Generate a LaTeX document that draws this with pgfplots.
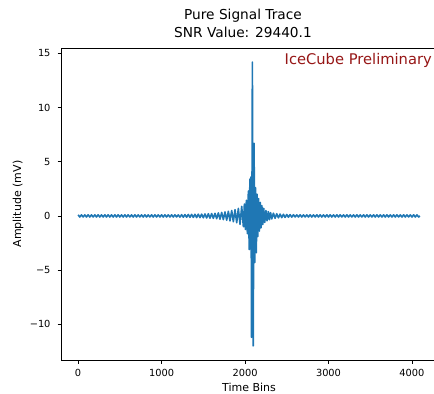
\documentclass[border=0pt]{standalone}
\usepackage{fontspec}
\setmainfont{DejaVu Sans}
\usepackage{pgfplots}
\pgfplotsset{compat=1.18}
\definecolor{mplblue}{HTML}{1F77B4}
\definecolor{icred}{RGB}{150,22,22}
\begin{document}
\begin{tikzpicture}
\useasboundingbox (-61bp,-34bp) rectangle (373bp,360bp);
\begin{axis}[
  at={(0,0)}, anchor=south west,
  scale only axis, width=376bp, height=312bp,
  xmin=-205, xmax=4300, ymin=-13.3, ymax=15.5,
  xtick={0,1000,2000,3000,4000},
  ytick={-10,-5,0,5,10,15},
  yticklabels={−10,−5,0,5,10,15},
  tick align=outside, xtick pos=bottom, ytick pos=left,
  major tick length=3.5bp,
  tick style={black, line width=0.7bp},
  axis line style={line width=0.7bp},
  ticklabel style={font=\fontsize{9.8bp}{11bp}\selectfont},
  xticklabel style={yshift=-2bp},
  yticklabel style={xshift=-3.5bp},
  /pgf/number format/assume math mode=true,
  /pgf/number format/1000 sep={},
]
\addplot[mplblue, line width=1.6bp, line join=round, mark=none] table {
x y
0 0.10
20 -0.10
40 0.10
60 -0.10
80 0.10
100 -0.10
120 0.10
140 -0.10
160 0.10
180 -0.10
200 0.10
220 -0.10
240 0.10
260 -0.10
280 0.10
300 -0.10
320 0.10
340 -0.10
360 0.10
380 -0.10
400 0.10
420 -0.10
440 0.10
460 -0.10
480 0.10
500 -0.10
520 0.10
540 -0.10
560 0.10
580 -0.10
600 0.10
620 -0.10
640 0.10
660 -0.10
680 0.10
700 -0.10
720 0.10
740 -0.10
760 0.10
780 -0.10
800 0.10
820 -0.10
840 0.10
860 -0.10
880 0.10
900 -0.10
920 0.10
940 -0.10
960 0.10
980 -0.10
1000 0.10
1020 -0.10
1040 0.10
1060 -0.10
1080 0.10
1100 -0.10
1120 0.10
1140 -0.10
1160 0.10
1180 -0.10
1200 0.10
1220 -0.11
1240 0.11
1260 -0.12
1280 0.12
1300 -0.12
1320 0.13
1340 -0.13
1360 0.14
1380 -0.14
1400 0.15
1420 -0.15
1440 0.16
1460 -0.16
1480 0.17
1500 -0.17
1520 0.18
1540 -0.19
1560 0.20
1580 -0.21
1600 0.22
1620 -0.23
1640 0.24
1660 -0.26
1680 0.28
1700 -0.30
1720 0.32
1740 -0.34
1760 0.37
1780 -0.40
1800 0.43
1820 -0.46
1840 0.50
1860 -0.54
1880 0.58
1900 -0.63
1920 0.70
1940 -0.78
1960 0.88
1980 -1.00
1992 1.10
2004 -1.25
2016 1.45
2028 -1.65
2040 2.30
2050 -3.10
2058 3.40
2066 -2.80
2072 3.60
2078 -11.2
2088 14.2
2098 -12.0
2108 6.7
2117 -4.3
2126 2.6
2135 -3.4
2144 2.0
2153 -1.9
2162 1.6
2172 -1.4
2182 1.25
2192 -1.10
2202 0.95
2212 -0.80
2224 0.70
2236 -0.60
2250 0.50
2264 -0.45
2278 0.40
2292 -0.35
2306 0.31
2320 -0.28
2340 0.25
2360 -0.22
2380 0.20
2400 -0.18
2420 0.17
2440 -0.16
2460 0.15
2480 -0.14
2500 0.13
2520 -0.12
2540 0.12
2560 -0.11
2580 0.11
2600 -0.10
2620 0.10
2640 -0.10
2660 0.10
2680 -0.10
2700 0.10
2720 -0.10
2740 0.10
2760 -0.10
2780 0.10
2800 -0.10
2820 0.10
2840 -0.10
2860 0.10
2880 -0.10
2900 0.10
2920 -0.10
2940 0.10
2960 -0.10
2980 0.10
3000 -0.10
3020 0.10
3040 -0.10
3060 0.10
3080 -0.10
3100 0.10
3120 -0.10
3140 0.10
3160 -0.10
3180 0.10
3200 -0.10
3220 0.10
3240 -0.10
3260 0.10
3280 -0.10
3300 0.10
3320 -0.10
3340 0.10
3360 -0.10
3380 0.10
3400 -0.10
3420 0.10
3440 -0.10
3460 0.10
3480 -0.10
3500 0.10
3520 -0.10
3540 0.10
3560 -0.10
3580 0.10
3600 -0.10
3620 0.10
3640 -0.10
3660 0.10
3680 -0.10
3700 0.10
3720 -0.10
3740 0.10
3760 -0.10
3780 0.10
3800 -0.10
3820 0.10
3840 -0.10
3860 0.10
3880 -0.10
3900 0.10
3920 -0.10
3940 0.10
3960 -0.10
3980 0.10
4000 -0.10
4020 0.10
4040 -0.10
4060 0.10
4080 -0.10
4095 0.00
};
\end{axis}
\node[anchor=base, inner sep=0, font=\fontsize{13.7bp}{16bp}\selectfont] at (182bp,340.5bp) {Pure Signal Trace};
\node[anchor=base, inner sep=0, font=\fontsize{13.7bp}{16bp}\selectfont] at (182bp,322.5bp) {SNR Value: 29440.1};
\node[anchor=base east, inner sep=0, text=icred, font=\fontsize{14.7bp}{17bp}\selectfont] at (371bp,295bp) {IceCube Preliminary};
\node[anchor=base, inner sep=0, font=\fontsize{11bp}{13bp}\selectfont] at (188bp,-31.5bp) {Time Bins};
\node[rotate=90, inner sep=0, font=\fontsize{11bp}{13bp}\selectfont] at (-43bp,156bp) {Amplitude (mV)};
\end{tikzpicture}
\end{document}
